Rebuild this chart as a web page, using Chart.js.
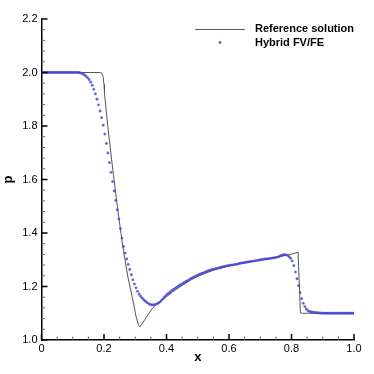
<!DOCTYPE html>
<html>
<head>
<meta charset="utf-8">
<script src="https://cdn.jsdelivr.net/npm/chart.js@4.4.0/dist/chart.umd.min.js"></script>
<style>
    html, body { margin: 0; padding: 0; background: #fff; }
    #chart { display: block; }
</style>
</head>
<body>
<canvas id="chart" width="374" height="374"></canvas>
<script>
// reference (exact) solution, drawn as a thin line
const refX = [0, 0.185, 0.192, 0.197, 0.2, 0.2016, 0.2122, 0.2282, 0.2442, 0.2602, 0.2762, 0.2922, 0.3027, 0.31, 0.3136,
    0.317, 0.325, 0.34, 0.355, 0.368, 0.38, 0.40, 0.42, 0.45, 0.48, 0.50, 0.55, 0.60, 0.65, 0.70, 0.75, 0.80, 0.821,
    0.8285, 0.835, 1.0];
const refP = [2.0, 2.0, 1.998, 1.985, 1.955, 1.922, 1.797, 1.636, 1.486, 1.349, 1.237, 1.150, 1.087, 1.058, 1.050,
    1.052, 1.066, 1.093, 1.118, 1.135, 1.145, 1.162, 1.180, 1.204, 1.226, 1.238, 1.261, 1.277, 1.289, 1.299, 1.309, 1.321, 1.328,
    1.101, 1.1, 1.1];

// hybrid FV/FE cell values
const hybridX = [
    0.0025, 0.0075, 0.0125, 0.0175, 0.0225, 0.0275, 0.0325, 0.0375, 0.0425, 0.0475,
    0.0525, 0.0575, 0.0625, 0.0675, 0.0725, 0.0775, 0.0825, 0.0875, 0.0925, 0.0975,
    0.1025, 0.1075, 0.1125, 0.1175, 0.1225, 0.1275, 0.1325, 0.1375, 0.1425, 0.1475,
    0.1525, 0.1575, 0.1625, 0.1675, 0.1725, 0.1775, 0.1825, 0.1875, 0.1925, 0.1975,
    0.2025, 0.2075, 0.2125, 0.2175, 0.2225, 0.2275, 0.2325, 0.2375, 0.2425, 0.2475,
    0.2525, 0.2575, 0.2625, 0.2675, 0.2725, 0.2775, 0.2825, 0.2875, 0.2925, 0.2975,
    0.3025, 0.3075, 0.3125, 0.3175, 0.3225, 0.3275, 0.3325, 0.3375, 0.3425, 0.3475,
    0.3525, 0.3575, 0.3625, 0.3675, 0.3725, 0.3775, 0.3825, 0.3875, 0.3925, 0.3975,
    0.4025, 0.4075, 0.4125, 0.4175, 0.4225, 0.4275, 0.4325, 0.4375, 0.4425, 0.4475,
    0.4525, 0.4575, 0.4625, 0.4675, 0.4725, 0.4775, 0.4825, 0.4875, 0.4925, 0.4975,
    0.5025, 0.5075, 0.5125, 0.5175, 0.5225, 0.5275, 0.5325, 0.5375, 0.5425, 0.5475,
    0.5525, 0.5575, 0.5625, 0.5675, 0.5725, 0.5775, 0.5825, 0.5875, 0.5925, 0.5975,
    0.6025, 0.6075, 0.6125, 0.6175, 0.6225, 0.6275, 0.6325, 0.6375, 0.6425, 0.6475,
    0.6525, 0.6575, 0.6625, 0.6675, 0.6725, 0.6775, 0.6825, 0.6875, 0.6925, 0.6975,
    0.7025, 0.7075, 0.7125, 0.7175, 0.7225, 0.7275, 0.7325, 0.7375, 0.7425, 0.7475,
    0.7525, 0.7575, 0.7625, 0.7675, 0.7725, 0.7775, 0.7825, 0.7875, 0.7925, 0.7975,
    0.8025, 0.8075, 0.8125, 0.8175, 0.8225, 0.8275, 0.8325, 0.8375, 0.8425, 0.8475,
    0.8525, 0.8575, 0.8625, 0.8675, 0.8725, 0.8775, 0.8825, 0.8875, 0.8925, 0.8975,
    0.9025, 0.9075, 0.9125, 0.9175, 0.9225, 0.9275, 0.9325, 0.9375, 0.9425, 0.9475,
    0.9525, 0.9575, 0.9625, 0.9675, 0.9725, 0.9775, 0.9825, 0.9875, 0.9925, 0.9975
];
const hybridP = [
    2.0, 2.0, 2.0, 2.0, 2.0, 2.0, 2.0, 2.0, 2.0, 2.0,
    2.0, 2.0, 2.0, 2.0, 2.0, 2.0, 2.0, 2.0, 2.0, 2.0,
    2.0, 2.0, 2.0, 2.0, 1.999, 1.997, 1.995, 1.991, 1.986, 1.980,
    1.973, 1.964, 1.952, 1.937, 1.920, 1.900, 1.879, 1.856, 1.831, 1.803,
    1.770, 1.735, 1.699, 1.663, 1.627, 1.592, 1.557, 1.522, 1.487, 1.452,
    1.416, 1.381, 1.350, 1.325, 1.303, 1.283, 1.264, 1.244, 1.225, 1.209,
    1.195, 1.182, 1.171, 1.163, 1.156, 1.150, 1.145, 1.140, 1.136, 1.133,
    1.131, 1.131, 1.132, 1.134, 1.137, 1.141, 1.146, 1.152, 1.159, 1.165,
    1.171, 1.176, 1.180, 1.185, 1.189, 1.193, 1.197, 1.201, 1.205, 1.208,
    1.212, 1.215, 1.219, 1.222, 1.225, 1.229, 1.232, 1.235, 1.238, 1.241,
    1.244, 1.246, 1.249, 1.251, 1.253, 1.256, 1.258, 1.260, 1.262, 1.264,
    1.265, 1.267, 1.268, 1.270, 1.271, 1.273, 1.274, 1.275, 1.277, 1.278,
    1.279, 1.280, 1.281, 1.282, 1.283, 1.284, 1.286, 1.287, 1.288, 1.289,
    1.290, 1.291, 1.292, 1.293, 1.294, 1.295, 1.296, 1.297, 1.298, 1.299,
    1.300, 1.301, 1.302, 1.303, 1.303, 1.304, 1.305, 1.306, 1.307, 1.308,
    1.309, 1.311, 1.313, 1.316, 1.318, 1.319, 1.318, 1.316, 1.311, 1.305,
    1.295, 1.278, 1.254, 1.229, 1.203, 1.177, 1.155, 1.137, 1.125, 1.116,
    1.110, 1.107, 1.105, 1.104, 1.103, 1.102, 1.102, 1.101, 1.101, 1.100,
    1.1, 1.1, 1.1, 1.1, 1.1, 1.1, 1.1, 1.1, 1.1, 1.1,
    1.1, 1.1, 1.1, 1.1, 1.1, 1.1, 1.1, 1.1, 1.1, 1.1
];

const seriesNames = ['Reference solution', 'Hybrid FV/FE'];
const xTicks = { min: 0, max: 1, major: 0.2, minor: 0.05 };
const yTicks = { min: 1, max: 2.2, major: 0.2, minor: 0.04 };

const FONT = "'Liberation Sans', Arial, Helvetica, sans-serif";
const LINE_COLOR = '#555';
const DOT_COLOR = 'rgba(72, 72, 210, 0.85)';

// Tecplot style: ticks point into the plot, minor ticks between the labelled ones
const inwardTicks = {
    id: 'inwardTicks',
    afterDraw(chart) {
        const ctx = chart.ctx;
        const area = chart.chartArea;
        const xs = chart.scales.x;
        const ys = chart.scales.y;
        ctx.save();
        function draw(scale, spec, horizontal) {
            const n = Math.round((spec.max - spec.min) / spec.minor);
            const every = Math.round(spec.major / spec.minor);
            for (let i = 0; i <= n; i++) {
                const v = spec.min + i * spec.minor;
                const major = i % every === 0;
                const len = major ? 6 : 3.5;
                ctx.lineWidth = major ? 1.5 : 1;
                ctx.strokeStyle = major ? '#000' : '#666';
                const p = scale.getPixelForValue(v);
                ctx.beginPath();
                if (horizontal) {
                    ctx.moveTo(p, area.bottom);
                    ctx.lineTo(p, area.bottom - len);
                } else {
                    ctx.moveTo(area.left, p);
                    ctx.lineTo(area.left + len, p);
                }
                ctx.stroke();
            }
        }
        draw(xs, xTicks, true);
        draw(ys, yTicks, false);
        ctx.restore();
    }
};

// legend sits inside the plot, top right
const insideLegend = {
    id: 'insideLegend',
    afterDraw(chart) {
        const ctx = chart.ctx;
        const area = chart.chartArea;
        const textX = area.right - 99;
        const row1 = area.top + 10;
        const row2 = area.top + 23.5;
        ctx.save();
        ctx.strokeStyle = LINE_COLOR;
        ctx.lineWidth = 1;
        ctx.beginPath();
        ctx.moveTo(textX - 60, row1 + 0.5);
        ctx.lineTo(textX - 10, row1 + 0.5);
        ctx.stroke();
        ctx.fillStyle = DOT_COLOR;
        ctx.beginPath();
        ctx.arc(textX - 35, row2, 1.4, 0, Math.PI * 2);
        ctx.fill();
        ctx.fillStyle = '#000';
        ctx.font = 'bold 11px ' + FONT;
        ctx.textBaseline = 'middle';
        ctx.textAlign = 'left';
        ctx.fillText(chart.data.datasets[0].label, textX, row1);
        ctx.fillText(chart.data.datasets[1].label, textX, row2);
        ctx.restore();
    }
};

new Chart(document.getElementById('chart'), {
    type: 'scatter',
    data: {
        datasets: [{
            label: seriesNames[0],
            data: refX.map((x, i) => ({ x: x, y: refP[i] })),
            showLine: true,
            borderColor: LINE_COLOR,
            borderWidth: 1,
            pointRadius: 0,
            tension: 0,
            order: 2
        }, {
            label: seriesNames[1],
            data: hybridX.map((x, i) => ({ x: x, y: hybridP[i] })),
            showLine: false,
            pointRadius: 1.4,
            pointBackgroundColor: DOT_COLOR,
            pointBorderWidth: 0,
            order: 1
        }]
    },
    options: {
        responsive: false,
        animation: false,
        devicePixelRatio: 1,
        layout: { padding: { top: 19, right: 20, bottom: 0, left: 0 } },
        plugins: {
            legend: { display: false },
            tooltip: { enabled: false }
        },
        scales: {
            x: {
                type: 'linear',
                min: xTicks.min,
                max: xTicks.max,
                grid: { display: false, drawTicks: false },
                border: { display: true, color: '#000', width: 1.5 },
                ticks: { stepSize: xTicks.major, color: '#000', padding: 2, font: { family: FONT, size: 11 } },
                title: { display: true, text: 'x', color: '#000', padding: { top: 0, bottom: 9 }, font: { family: FONT, size: 13, weight: 'bold' } },
                afterFit: s => { s.height = 34; }
            },
            y: {
                type: 'linear',
                min: yTicks.min,
                max: yTicks.max,
                grid: { display: false, drawTicks: false },
                border: { display: true, color: '#000', width: 1.5 },
                ticks: { stepSize: yTicks.major, color: '#000', padding: 4, font: { family: FONT, size: 11 } },
                title: { display: true, text: 'p', color: '#000', padding: { top: 1, bottom: 0 }, font: { family: FONT, size: 13, weight: 'bold' } },
                afterFit: s => { s.width = 41.5; }
            }
        }
    },
    plugins: [inwardTicks, insideLegend]
});
</script>
</body>
</html>
